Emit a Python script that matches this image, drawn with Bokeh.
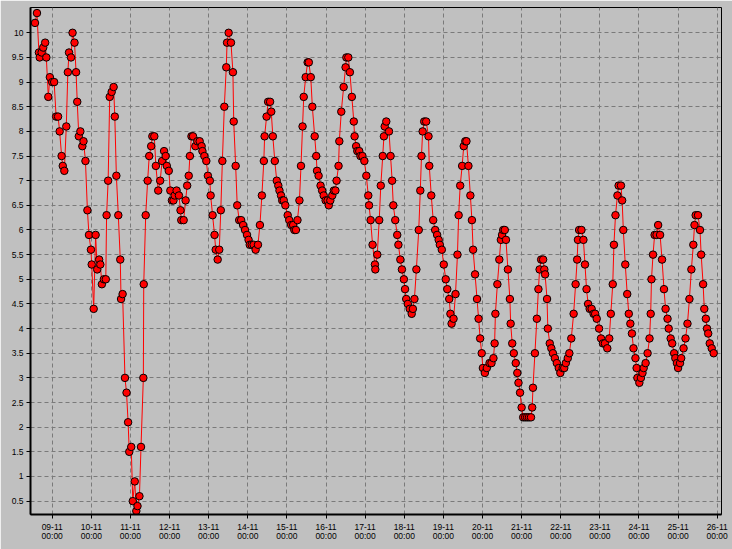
import numpy as np
import pandas as pd
from bokeh.plotting import figure
from bokeh.models import (ColumnDataSource, Range1d, FixedTicker,
                          DatetimeTickFormatter, NumeralTickFormatter)
from bokeh.embed import file_html
from bokeh.resources import INLINE

# ---- data: time as fractional day of November, value ----
day = [
    8.56, 8.61, 8.66, 8.68, 8.73, 8.77, 8.82, 8.85, 8.90, 8.94,
    9.00, 9.05, 9.10, 9.15, 9.19, 9.24, 9.27, 9.31, 9.36, 9.40,
    9.43, 9.48, 9.52, 9.57, 9.61, 9.64, 9.68, 9.72, 9.77, 9.80,
    9.85, 9.90, 9.94, 9.99, 10.01, 10.06, 10.11, 10.15, 10.20, 10.23,
    10.27, 10.32, 10.37, 10.39, 10.43, 10.47, 10.52, 10.57, 10.60, 10.64,
    10.69, 10.74, 10.76, 10.80, 10.86, 10.90, 10.94, 10.97, 11.02, 11.06,
    11.11, 11.15, 11.18, 11.23, 11.27, 11.33, 11.34, 11.39, 11.44, 11.48,
    11.53, 11.56, 11.61, 11.65, 11.71, 11.76, 11.81, 11.86, 11.90, 11.93,
    11.98, 12.02, 12.06, 12.10, 12.13, 12.18, 12.24, 12.28, 12.30, 12.36,
    12.41, 12.45, 12.49, 12.52, 12.56, 12.60, 12.66, 12.71, 12.77, 12.82,
    12.84, 12.89, 12.94, 12.98, 13.03, 13.05, 13.10, 13.15, 13.18, 13.23,
    13.27, 13.31, 13.35, 13.40, 13.45, 13.47, 13.51, 13.57, 13.62, 13.64,
    13.69, 13.73, 13.78, 13.83, 13.88, 13.93, 13.98, 14.02, 14.05, 14.10,
    14.15, 14.20, 14.26, 14.31, 14.36, 14.41, 14.43, 14.48, 14.52, 14.57,
    14.60, 14.64, 14.69, 14.74, 14.78, 14.81, 14.85, 14.88, 14.92, 14.96,
    15.02, 15.06, 15.11, 15.16, 15.19, 15.23, 15.27, 15.32, 15.36, 15.40,
    15.43, 15.48, 15.53, 15.56, 15.61, 15.65, 15.71, 15.75, 15.77, 15.81,
    15.86, 15.90, 15.94, 15.99, 16.04, 16.07, 16.11, 16.16, 16.20, 16.24,
    16.27, 16.32, 16.34, 16.39, 16.45, 16.50, 16.52, 16.57, 16.61, 16.66,
    16.71, 16.73, 16.77, 16.80, 16.85, 16.88, 16.93, 16.98, 17.03, 17.08,
    17.10, 17.14, 17.19, 17.25, 17.26, 17.31, 17.36, 17.40, 17.45, 17.48,
    17.50, 17.54, 17.61, 17.65, 17.69, 17.72, 17.77, 17.82, 17.85, 17.90,
    17.94, 17.99, 18.02, 18.05, 18.09, 18.14, 18.19, 18.22, 18.26, 18.31,
    18.37, 18.41, 18.44, 18.47, 18.51, 18.56, 18.62, 18.64, 18.69, 18.74,
    18.79, 18.84, 18.88, 18.91, 18.96, 19.01, 19.06, 19.10, 19.15, 19.18,
    19.21, 19.26, 19.31, 19.36, 19.39, 19.43, 19.48, 19.52, 19.56, 19.59,
    19.64, 19.69, 19.73, 19.76, 19.81, 19.86, 19.90, 19.94, 19.98, 20.01,
    20.06, 20.11, 20.18, 20.23, 20.28, 20.31, 20.33, 20.38, 20.43, 20.47,
    20.50, 20.53, 20.57, 20.60, 20.65, 20.70, 20.72, 20.76, 20.80, 20.85,
    20.89, 20.92, 20.96, 21.00, 21.04, 21.09, 21.14, 21.19, 21.24, 21.27,
    21.29, 21.34, 21.39, 21.43, 21.46, 21.50, 21.55, 21.58, 21.60, 21.65,
    21.67, 21.72, 21.76, 21.80, 21.85, 21.90, 21.95, 21.99, 22.05, 22.09,
    22.13, 22.18, 22.22, 22.27, 22.33, 22.38, 22.42, 22.44, 22.47, 22.53,
    22.58, 22.62, 22.66, 22.70, 22.74, 22.79, 22.84, 22.88, 22.92, 22.98,
    23.03, 23.08, 23.13, 23.19, 23.24, 23.28, 23.33, 23.36, 23.40, 23.45,
    23.48, 23.54, 23.57, 23.60, 23.65, 23.70, 23.74, 23.78, 23.82, 23.86,
    23.91, 23.94, 23.96, 24.01, 24.05, 24.09, 24.12, 24.17, 24.22, 24.27,
    24.30, 24.32, 24.36, 24.40, 24.45, 24.49, 24.54, 24.59, 24.64, 24.68,
    24.73, 24.76, 24.81, 24.85, 24.90, 24.93, 24.97, 25.00, 25.05, 25.08,
    25.14, 25.19, 25.24, 25.29, 25.34, 25.39, 25.42, 25.45, 25.51, 25.56,
    25.59, 25.64, 25.67, 25.71, 25.74, 25.77, 25.81, 25.86, 25.91,
]
value = [
    10.2, 10.4, 9.6, 9.5, 9.6, 9.7, 9.8, 9.5, 8.7, 9.1,
    9.0, 9.0, 8.3, 8.3, 8.0, 7.5, 7.3, 7.2, 8.1, 9.2,
    9.6, 9.5, 10.0, 9.8, 9.2, 8.6, 7.9, 8.0, 7.7, 7.8,
    7.4, 6.4, 5.9, 5.6, 5.3, 4.4, 5.9, 5.2, 5.4, 5.3,
    4.9, 5.0, 5.0, 6.3, 7.0, 8.7, 8.8, 8.9, 8.3, 7.1,
    6.3, 5.4, 4.6, 4.7, 3.0, 2.7, 2.1, 1.5, 1.6, 0.5,
    0.9, 0.3, 0.4, 0.6, 1.6, 3.0, 4.9, 6.3, 7.0, 7.5,
    7.7, 7.9, 7.9, 7.3, 6.8, 7.0, 7.4, 7.6, 7.5, 7.3,
    7.2, 6.8, 6.6, 6.6, 6.7, 6.8, 6.7, 6.4, 6.2, 6.2,
    6.6, 6.9, 7.1, 7.5, 7.9, 7.9, 7.7, 7.8, 7.8, 7.7,
    7.6, 7.5, 7.4, 7.1, 7.0, 6.7, 6.3, 5.9, 5.6, 5.4,
    5.6, 6.4, 7.4, 8.5, 9.3, 9.8, 10.0, 9.8, 9.2, 8.2,
    7.3, 6.5, 6.2, 6.2, 6.1, 6.0, 5.9, 5.8, 5.7, 5.7,
    5.7, 5.6, 5.7, 6.1, 6.7, 7.4, 7.9, 8.3, 8.6, 8.6,
    8.4, 7.9, 7.4, 7.0, 6.9, 6.8, 6.7, 6.6, 6.6, 6.5,
    6.3, 6.2, 6.1, 6.1, 6.0, 6.0, 6.2, 6.6, 7.3, 8.1,
    8.7, 9.1, 9.4, 9.4, 9.1, 8.5, 7.9, 7.5, 7.2, 7.1,
    6.9, 6.8, 6.7, 6.6, 6.6, 6.5, 6.6, 6.7, 6.8, 6.8,
    7.0, 7.3, 7.8, 8.4, 8.9, 9.3, 9.5, 9.5, 9.2, 8.7,
    8.2, 7.9, 7.7, 7.6, 7.6, 7.5, 7.5, 7.4, 7.1, 6.7,
    6.5, 6.2, 5.7, 5.3, 5.2, 5.5, 6.2, 6.9, 7.5, 7.9,
    8.1, 8.2, 8.0, 7.5, 7.0, 6.5, 6.2, 5.9, 5.7, 5.4,
    5.2, 5.0, 4.8, 4.6, 4.5, 4.4, 4.3, 4.4, 4.6, 5.2,
    6.0, 6.8, 7.5, 8.0, 8.2, 8.2, 7.9, 7.3, 6.7, 6.2,
    6.0, 5.9, 5.8, 5.7, 5.6, 5.3, 5.0, 4.8, 4.6, 4.3,
    4.1, 4.2, 4.7, 5.5, 6.3, 6.9, 7.3, 7.7, 7.8, 7.8,
    7.3, 6.7, 6.2, 5.6, 5.1, 4.6, 4.2, 3.8, 3.5, 3.2,
    3.1, 3.2, 3.3, 3.3, 3.4, 3.7, 4.3, 4.9, 5.4, 5.8,
    5.9, 6.0, 6.0, 5.8, 5.2, 4.6, 4.1, 3.7, 3.5, 3.3,
    3.1, 2.9, 2.7, 2.4, 2.2, 2.2, 2.2, 2.2, 2.2, 2.4,
    2.8, 3.5, 4.2, 4.8, 5.2, 5.4, 5.4, 5.2, 5.1, 4.6,
    4.0, 3.7, 3.6, 3.5, 3.4, 3.3, 3.2, 3.1, 3.2, 3.2,
    3.3, 3.4, 3.5, 3.8, 4.3, 4.9, 5.4, 5.8, 6.0, 6.0,
    5.8, 5.3, 4.8, 4.5, 4.4, 4.4, 4.3, 4.3, 4.2, 4.0,
    3.8, 3.7, 3.7, 3.6, 3.8, 4.3, 4.9, 5.7, 6.3, 6.7,
    6.9, 6.9, 6.6, 6.0, 5.3, 4.7, 4.3, 4.1, 3.9, 3.6,
    3.4, 3.2, 3.0, 2.9, 3.0, 3.1, 3.2, 3.3, 3.5, 3.8,
    4.3, 5.0, 5.5, 5.9, 5.9, 6.1, 5.9, 5.4, 4.8, 4.4,
    4.2, 4.0, 3.8, 3.7, 3.5, 3.4, 3.3, 3.2, 3.3, 3.4,
    3.6, 3.8, 4.1, 4.6, 5.2, 5.7, 6.1, 6.3, 6.3, 6.0,
    5.5, 4.9, 4.4, 4.2, 4.0, 3.9, 3.7, 3.6, 3.5,
]

# tick labels / ranges
month_start = "2008-11-01"
tick_days = pd.date_range("2008-11-09", "2008-11-26", freq="D")
y_ticks = [0.5 * i for i in range(1, 21)]
x_start_day, x_end_day = 8.445, 26.11
y_start, y_end = 0.229, 10.513

# ---- build ----
base = pd.Timestamp(month_start)
t = base + pd.to_timedelta(np.array(day) - 1.0, unit="D")
src = ColumnDataSource(dict(t=t, v=value))

x0 = base + pd.to_timedelta(x_start_day - 1.0, unit="D")
x1 = base + pd.to_timedelta(x_end_day - 1.0, unit="D")

bg = "#c0c0c0"
p = figure(width=732, height=549, x_axis_type="datetime",
           output_backend="svg", toolbar_location=None,
           x_range=Range1d(x0.to_pydatetime(), x1.to_pydatetime()),
           y_range=Range1d(y_start, y_end),
           min_border_left=30, min_border_right=11, min_border_top=7,
           min_border_bottom=35,
           background_fill_color=bg, border_fill_color=bg)

p.outline_line_color = "black"
p.outline_line_width = 1

xt = FixedTicker(ticks=[float(v) for v in (tick_days.asi8 // 10**6)])
yt = FixedTicker(ticks=y_ticks)
p.xaxis.ticker = xt
p.yaxis.ticker = yt
p.xgrid.ticker = xt
p.ygrid.ticker = yt

fmt = "%d-%m\n%H:%M"
p.xaxis.formatter = DatetimeTickFormatter(
    microseconds=fmt, milliseconds=fmt, seconds=fmt, minsec=fmt,
    minutes=fmt, hourmin=fmt, hours=fmt, days=fmt, months=fmt, years=fmt)
p.yaxis.formatter = NumeralTickFormatter(format="0.[0]")

for ax in (p.xaxis[0], p.yaxis[0]):
    ax.axis_line_color = "black"
    ax.axis_line_width = 2
    ax.major_tick_line_color = "black"
    ax.major_tick_in = 0
    ax.major_tick_out = 4
    ax.minor_tick_line_color = None
    ax.major_label_text_font = "Liberation Sans"
    ax.major_label_text_font_size = "8.5px"
    ax.major_label_text_color = "black"
    ax.major_label_standoff = 3
p.xaxis[0].major_label_text_line_height = 0.95

for g in (p.xgrid[0], p.ygrid[0]):
    g.grid_line_color = "#7a7a7a"
    g.grid_line_dash = "4 3"
    g.grid_line_width = 1

p.line("t", "v", source=src, line_color="#ff0000", line_width=1)
p.scatter("t", "v", source=src, size=7.5, fill_color="#ff0000",
          line_color="black", line_width=1)

open("out.html", "w").write(file_html(p, INLINE))
